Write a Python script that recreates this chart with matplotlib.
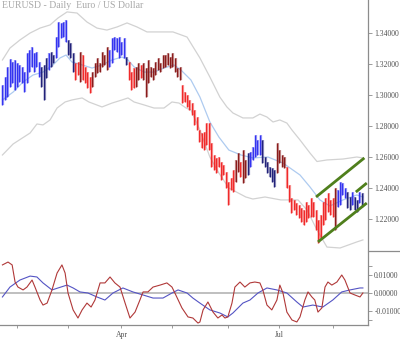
import numpy as np
import matplotlib
matplotlib.use("Agg")
import matplotlib.pyplot as plt
from matplotlib.lines import Line2D

plt.rcParams['font.family'] = ['Liberation Serif', 'DejaVu Serif']

# daily bars, index 0 = 24 Jan 2012
highs = [1.3065, 1.3116, 1.3181, 1.3232, 1.3213, 1.3226, 1.3207, 1.3194, 1.3181, 1.3148,
         1.3271, 1.3290, 1.3310, 1.3271, 1.3278, 1.3213, 1.3181, 1.3194, 1.3239, 1.3271,
         1.3278, 1.3258, 1.3374, 1.3471, 1.3465, 1.3471, 1.3484, 1.3355, 1.3336, 1.3271,
         1.3207, 1.3213, 1.3278, 1.3258, 1.3181, 1.3148, 1.3116, 1.3148, 1.3207, 1.3239,
         1.3207, 1.3278, 1.3258, 1.3310, 1.3290, 1.3368, 1.3374, 1.3368, 1.3374, 1.3342,
         1.3368, 1.3245, 1.3213, 1.3148, 1.3174, 1.3181, 1.3207, 1.3194, 1.3207, 1.3174,
         1.3226, 1.3181, 1.3174, 1.3213, 1.3239, 1.3207, 1.3258, 1.3258, 1.3271, 1.3245,
         1.3271, 1.3239, 1.3174, 1.3181, 1.3065, 1.3019, 1.3000, 1.2968, 1.2948, 1.2903,
         1.2858, 1.2774, 1.2755, 1.2761, 1.2819, 1.2819, 1.2690, 1.2613, 1.2594, 1.2600,
         1.2568, 1.2548, 1.2503, 1.2439, 1.2465, 1.2516, 1.2581, 1.2626, 1.2568, 1.2645,
         1.2581, 1.2626, 1.2632, 1.2665, 1.2742, 1.2710, 1.2742, 1.2710, 1.2600, 1.2568,
         1.2536, 1.2529, 1.2516, 1.2690, 1.2645, 1.2613, 1.2600, 1.2536, 1.2419, 1.2336,
         1.2323, 1.2303, 1.2290, 1.2271, 1.2258, 1.2310, 1.2290, 1.2336, 1.2310, 1.2258,
         1.2194, 1.2226, 1.2310, 1.2336, 1.2368, 1.2323, 1.2336, 1.2400, 1.2387, 1.2439,
         1.2432, 1.2400, 1.2374, 1.2342, 1.2374, 1.2342, 1.2323, 1.2374, 1.2368]
lows = [1.2936, 1.2968, 1.2987, 1.3052, 1.3078, 1.3032, 1.3052, 1.3084, 1.3078, 1.3019,
        1.3078, 1.3148, 1.3181, 1.3148, 1.3181, 1.3116, 1.3052, 1.2968, 1.3110, 1.3161,
        1.3181, 1.3207, 1.3239, 1.3310, 1.3368, 1.3374, 1.3342, 1.3258, 1.3239, 1.3148,
        1.3097, 1.3129, 1.3084, 1.3097, 1.3078, 1.3045, 1.3013, 1.3052, 1.3116, 1.3142,
        1.3148, 1.3181, 1.3194, 1.3161, 1.3181, 1.3207, 1.3290, 1.3278, 1.3239, 1.3258,
        1.3239, 1.3194, 1.3097, 1.3032, 1.3045, 1.3052, 1.3097, 1.3110, 1.3097, 1.2987,
        1.3078, 1.3116, 1.3097, 1.3129, 1.3161, 1.3148, 1.3174, 1.3181, 1.3194, 1.3174,
        1.3181, 1.3148, 1.3116, 1.3097, 1.2948, 1.2955, 1.2923, 1.2903, 1.2871, 1.2807,
        1.2774, 1.2697, 1.2658, 1.2645, 1.2678, 1.2645, 1.2536, 1.2516, 1.2497, 1.2536,
        1.2452, 1.2484, 1.2400, 1.2290, 1.2387, 1.2374, 1.2439, 1.2503, 1.2471, 1.2432,
        1.2465, 1.2484, 1.2536, 1.2581, 1.2600, 1.2613, 1.2613, 1.2561, 1.2536, 1.2497,
        1.2471, 1.2439, 1.2407, 1.2497, 1.2561, 1.2536, 1.2529, 1.2400, 1.2310, 1.2239,
        1.2258, 1.2226, 1.2207, 1.2181, 1.2161, 1.2181, 1.2207, 1.2213, 1.2213, 1.2129,
        1.2045, 1.2078, 1.2161, 1.2194, 1.2245, 1.2226, 1.2213, 1.2129, 1.2278, 1.2290,
        1.2355, 1.2336, 1.2271, 1.2258, 1.2290, 1.2258, 1.2245, 1.2303, 1.2278]
# b = blue, n = navy, r = red, d = dark red
bar_state = ("bbbbbbbbbbbbbbbb" "nnnbnn" "bbbbb" "nnn" "rrdrrrr" "ddddddd" "bbbbbbb" "n"
             "rrrddrdd" "dddddddddddddd" "rrrrrrrrrrrrrrrrrrrrrr" "ddrdd" "n" "bbbbb"
             "nnnnnn" "dddd" "rrrrrrrrrrrrrrrrrrrr" "d" "bbbb" "nnbnnbn")
state_colors = {'b': '#3434f0', 'n': '#22227a', 'r': '#f02a2a', 'd': '#8a1c1c'}

month_idx = [6, 27, 49, 70, 93, 114, 136]
month_lbl = ['', '', 'Apr', '', '', 'Jul', '']

# band lines (bar index, price)
upper_x = [0, 3.1, 7.2, 11.4, 15.5, 19.6, 22.9, 26.6, 30.7, 34.8, 38.9, 43.0, 47.2, 51.3, 55.4,
           59.5, 64.9, 70.2, 76.0, 81.3, 85.4, 89.5, 92.4, 94.9, 99.0, 103.1, 106.0, 108.9,
           111.4, 114.2, 117.1, 119.2, 122.5, 126.6, 129.5, 133.6, 140.2, 145.9, 148.4]
upper_y = [1.3226, 1.3303, 1.3355, 1.3400, 1.3432, 1.3452, 1.3497, 1.3536, 1.3529, 1.3471,
           1.3432, 1.3419, 1.3439, 1.3465, 1.3439, 1.3407, 1.3407, 1.3407, 1.3374, 1.3239,
           1.3116, 1.2987, 1.2923, 1.2884, 1.2852, 1.2852, 1.2877, 1.2858, 1.2826, 1.2839,
           1.2819, 1.2774, 1.2710, 1.2626, 1.2571, 1.2581, 1.2587, 1.2600, 1.2594]
mid_x = [0, 4.4, 8.5, 12.6, 16.7, 20.8, 23.7, 26.2, 28.6, 32.8, 36.9, 41.0, 45.1, 49.2, 51.7,
         54.2, 58.3, 62.4, 66.5, 70.6, 73.5, 77.6, 81.3, 85.4, 89.1, 93.2, 98.2, 103.1, 109.3,
         115.5, 122.5, 126.6, 130.7, 134.8, 140.2, 145.9, 148.4]
mid_y = [1.2968, 1.3019, 1.3084, 1.3129, 1.3148, 1.3194, 1.3239, 1.3258, 1.3213, 1.3194,
         1.3174, 1.3194, 1.3226, 1.3245, 1.3226, 1.3181, 1.3148, 1.3148, 1.3174, 1.3194,
         1.3161, 1.3097, 1.2987, 1.2826, 1.2729, 1.2645, 1.2613, 1.2594, 1.2600, 1.2561,
         1.2484, 1.2407, 1.2323, 1.2284, 1.2323, 1.2355, 1.2342]
lower_x = [0, 4.4, 11.4, 14.2, 16.7, 19.6, 22.5, 25.8, 28.6, 32.8, 35.6, 41.0, 45.1, 49.2,
           51.7, 54.2, 58.3, 62.4, 66.5, 69.8, 72.7, 75.6, 77.6, 81.3, 85.4, 89.1, 93.2,
           100.2, 103.1, 108.1, 114.6, 121.7, 125.4, 129.5, 133.6, 139.0, 145.9, 148.4]
lower_y = [1.2613, 1.2684, 1.2755, 1.2813, 1.2807, 1.2839, 1.2916, 1.2955, 1.2968, 1.2981,
           1.2955, 1.2923, 1.2948, 1.2968, 1.2981, 1.2955, 1.2936, 1.2916, 1.2916, 1.2955,
           1.2948, 1.2916, 1.2903, 1.2774, 1.2600, 1.2497, 1.2400, 1.2342, 1.2329, 1.2342,
           1.2323, 1.2323, 1.2258, 1.2129, 1.2019, 1.2013, 1.2052, 1.2065]

# hand-drawn channel (bar index, price)
chan_upper = ([129.1, 149.0], [1.2342, 1.2594])
chan_mid = ([145.5, 150.0], [1.2374, 1.2432])
chan_lower = ([129.9, 150.0], [1.2052, 1.2303])

# oscillator panel
osc_fast_x = [0, 2.3, 4.0, 5.2, 6.4, 8.5, 10.1, 12.2, 13.4, 15.5, 16.7, 18.4, 20.4, 22.5, 24.5,
              25.8, 27.0, 29.1, 31.1, 32.8, 34.8, 36.5, 38.1, 40.2, 42.2, 44.3, 46.3, 48.4,
              50.5, 52.5, 54.6, 56.6, 57.9, 59.9, 62.0, 64.9, 67.7, 69.8, 71.0, 73.9, 76.4,
              78.4, 80.5, 81.3, 82.6, 84.6, 86.7, 88.7, 90.4, 91.6, 92.8, 94.5, 95.7, 97.8,
              99.8, 101.9, 103.9, 106.0, 107.2, 108.9, 110.9, 113.0, 114.2, 115.5, 117.1,
              119.2, 121.2, 122.5, 124.5, 125.8, 127.4, 128.6, 129.9, 131.5, 132.8, 134.0,
              135.6, 137.7, 139.7, 141.0, 143.1, 145.1, 147.2, 148.4]
osc_fast = [0.0156, 0.0172, 0.0156, 0.0061, 0.0033, 0.0017, 0.0033, 0.0072, 0.0033, -0.0039,
            -0.0067, -0.0056, 0.0017, 0.0111, 0.0156, 0.0111, 0.0, -0.0094, -0.0139, -0.0094,
            -0.0056, -0.0078, -0.0039, 0.0056, 0.0056, 0.0089, 0.0056, 0.0033, -0.0056,
            -0.0139, -0.0106, -0.0039, 0.0006, 0.0006, 0.0033, 0.0044, 0.0056, 0.0033, 0.0,
            -0.0083, -0.0133, -0.0139, -0.0167, -0.0161, -0.0094, -0.0050, -0.0106, -0.0139,
            -0.0122, -0.0139, -0.0133, -0.0056, 0.0033, 0.0061, 0.0033, 0.0056, 0.0061,
            0.0056, 0.0017, -0.0067, -0.0094, -0.0039, 0.0044, 0.0, -0.0106, -0.0150,
            -0.0161, -0.0133, -0.0039, 0.0006, -0.0022, -0.0039, -0.0106, -0.0083, 0.0033,
            0.0061, 0.0044, 0.0061, 0.0100, 0.0072, 0.0, -0.0011, -0.0022, 0.0]
osc_slow_x = [0, 3.1, 7.2, 11.4, 14.2, 16.7, 20.4, 22.9, 26.6, 29.1, 31.9, 35.2, 38.9, 42.2,
              45.5, 49.6, 53.7, 57.9, 62.0, 66.1, 69.8, 72.3, 76.0, 78.4, 81.3, 85.4, 89.5,
              92.8, 94.9, 99.0, 101.9, 105.2, 108.9, 113.0, 117.1, 121.2, 123.7, 127.8, 131.9,
              136.0, 139.7, 143.1, 147.2, 148.4]
osc_slow = [-0.0022, 0.0033, 0.0072, 0.0094, 0.0089, 0.0056, 0.0017, 0.0028, 0.0044, 0.0028,
            0.0006, 0.0, -0.0022, -0.0039, 0.0, 0.0028, 0.0006, -0.0011, -0.0028, -0.0028,
            0.0, 0.0017, 0.0, -0.0028, -0.0056, -0.0094, -0.0111, -0.0133, -0.0111, -0.0056,
            -0.0039, 0.0, 0.0028, 0.0017, 0.0, -0.0050, -0.0078, -0.0067, -0.0078, -0.0039,
            0.0006, 0.0017, 0.0028, 0.0028]

txt = '#505050'
spine = '#8c8c8c'

fig = plt.figure(figsize=(4, 3.39), dpi=100)
ax = fig.add_axes([0, 1 - 250 / 339, 368 / 400, 250 / 339])
ax2 = fig.add_axes([0, 1 - 325 / 339, 368 / 400, 73 / 339], sharex=ax)

ax.plot(upper_x, upper_y, color='#d2d2d2', lw=0.9)
ax.plot(lower_x, lower_y, color='#d2d2d2', lw=0.9)
ax.plot(mid_x, mid_y, color='#aecbf0', lw=0.9)

idx = np.arange(len(highs))
cols = [state_colors[s] for s in bar_state]
ax.vlines(idx + 0.35, lows, highs, colors=cols, lw=1.6, alpha=0.45)
ax.vlines(idx, lows, highs, colors=cols, lw=1.0)

for cx, cy in (chan_upper, chan_mid, chan_lower):
    ax.plot(cx, cy, color='#4f7f1c', lw=2.0, solid_capstyle='butt')

ax.set_xlim(-1.0, 150.5)
ax.set_ylim(1.2000, 1.3613)
ax.yaxis.tick_right()
ax.set_yticks([1.22, 1.24, 1.26, 1.28, 1.30, 1.32, 1.34])
ax.set_yticklabels(['%.5f' % v for v in [1.22, 1.24, 1.26, 1.28, 1.30, 1.32, 1.34]])
ax.tick_params(axis='y', length=3, width=0.6, color=spine, labelsize=5.5, labelcolor=txt, pad=1.5)
ax.tick_params(axis='x', bottom=False, labelbottom=False)
for s in ('top', 'left', 'bottom'):
    ax.spines[s].set_visible(False)
ax.spines['right'].set_color(spine)
ax.spines['right'].set_linewidth(0.9)
ax.text(0.006, 0.995, 'EURUSD - Daily  Euro / US Dollar', transform=ax.transAxes,
        ha='left', va='top', fontsize=7, color='#a8a8a8')

ax2.axhline(0, color='#b4b4b4', lw=1.2)
ax2.plot(osc_slow_x, osc_slow, color='#5454c4', lw=0.8)
ax2.plot(osc_fast_x, osc_fast, color='#b03838', lw=0.8)
ax2.set_ylim(-0.01778, 0.02278)
ax2.yaxis.tick_right()
ax2.set_yticks([-0.015, -0.01, 0.0, 0.01, 0.015])
ax2.set_yticklabels(['', '-0.01000', '0.00000', '0.01000', ''])
ax2.tick_params(axis='y', length=3, width=0.6, color=spine, labelsize=5.5, labelcolor=txt, pad=1.5)
ax2.set_xticks(month_idx)
ax2.set_xticklabels(month_lbl)
ax2.tick_params(axis='x', length=2.5, width=0.6, color=spine, labelsize=5.5, labelcolor=txt, pad=1.5)
ax2.spines['top'].set_visible(False)
ax2.spines['left'].set_visible(False)
ax2.spines['right'].set_color(spine)
ax2.spines['bottom'].set_color(spine)
ax2.spines['right'].set_linewidth(0.9)
ax2.spines['bottom'].set_linewidth(0.9)

fig.add_artist(Line2D([368 / 400, 1.0], [1 - 251 / 339, 1 - 251 / 339], color=spine, lw=0.9))

fig.savefig('out.png', dpi=100, facecolor='white')
